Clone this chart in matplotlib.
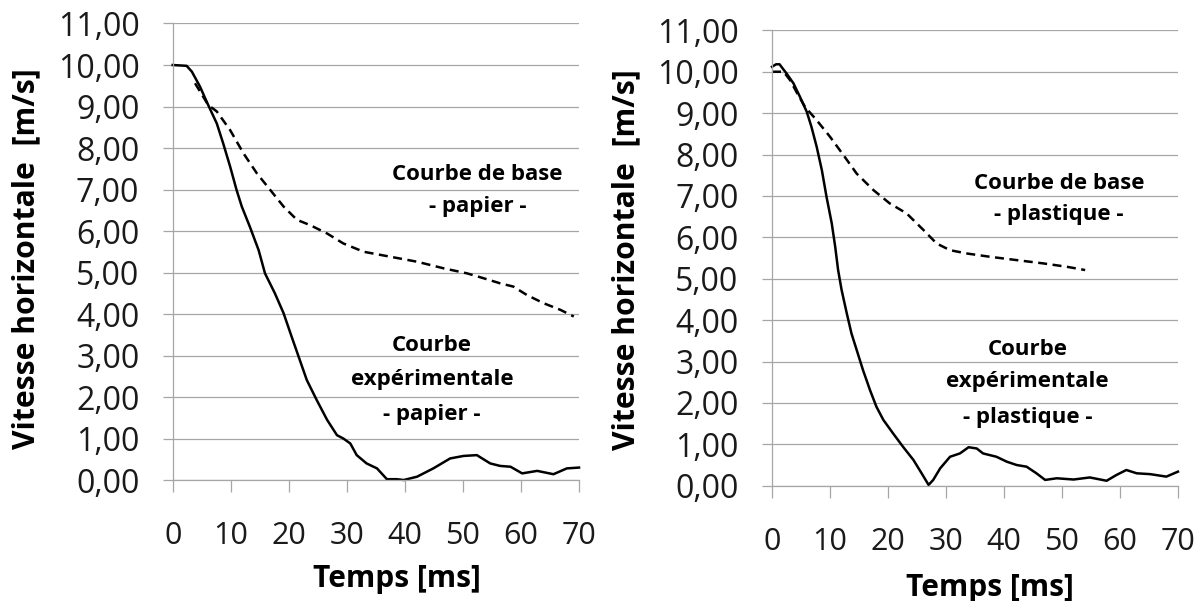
import numpy as np
import matplotlib
matplotlib.use("Agg")
import matplotlib.pyplot as plt
from matplotlib.ticker import FuncFormatter

plt.rcParams["font.family"] = ["Open Sans", "DejaVu Sans"]

# paper (left panel)
t_exp_papier = [0, 2.4, 3.3, 4.7, 6.1, 7.6, 8.7, 9.9, 11.0, 11.9, 13.3, 14.8, 15.9, 17.6,
                19.1, 20.5, 21.9, 23.1, 24.8, 26.6, 28.3, 29.4, 30.6, 31.7, 33.4, 35.2,
                36.9, 38.6, 39.8, 42.1, 44.9, 47.8, 50.1, 52.4, 54.7, 56.4, 58.2, 60.2,
                62.8, 65.6, 67.9, 70.0]
v_exp_papier = [10.0, 9.98, 9.84, 9.48, 9.04, 8.59, 8.11, 7.55, 6.99, 6.59, 6.10, 5.54,
                4.98, 4.50, 4.02, 3.45, 2.89, 2.41, 1.93, 1.45, 1.08, 1.00, 0.88, 0.60,
                0.40, 0.28, 0.02, 0.02, 0.0, 0.08, 0.28, 0.52, 0.58, 0.60, 0.40, 0.34,
                0.32, 0.16, 0.22, 0.14, 0.28, 0.30]
t_base_papier = [3.85, 6.1, 7.6, 9.9, 12.2, 14.5, 16.8, 19.1, 21.4, 23.7, 26.6, 29.4,
                 32.9, 37.5, 42.1, 46.7, 50.7, 53.6, 56.4, 58.7, 61.0, 63.9, 66.8, 69.1]
v_base_papier = [9.56, 9.04, 8.88, 8.43, 7.87, 7.39, 6.99, 6.59, 6.27, 6.14, 5.94, 5.70,
                 5.50, 5.38, 5.26, 5.10, 4.98, 4.86, 4.74, 4.66, 4.46, 4.26, 4.10, 3.94]

# plastic (right panel)
t_exp_plast = [0, 0.7, 1.3, 2.0, 2.5, 3.7, 4.8, 6.0, 6.8, 7.7, 8.6, 9.4, 10.3, 10.9, 11.4,
               12.0, 12.9, 13.7, 14.6, 15.7, 16.9, 18.0, 19.2, 20.9, 22.6, 24.4, 25.8,
               27.0, 27.8, 29.0, 30.7, 32.4, 33.9, 35.3, 36.4, 38.7, 40.5, 42.2, 43.9,
               45.6, 47.1, 49.1, 52.0, 54.8, 57.7, 59.4, 61.1, 62.9, 65.2, 68.0, 70.0]
v_exp_plast = [10.12, 10.18, 10.18, 10.05, 9.96, 9.72, 9.40, 9.03, 8.67, 8.19, 7.62, 6.98,
               6.34, 5.77, 5.21, 4.73, 4.16, 3.68, 3.28, 2.79, 2.31, 1.91, 1.59, 1.26,
               0.94, 0.62, 0.30, 0.02, 0.14, 0.42, 0.70, 0.78, 0.93, 0.90, 0.78, 0.70,
               0.58, 0.50, 0.46, 0.30, 0.14, 0.18, 0.15, 0.20, 0.12, 0.26, 0.38, 0.30,
               0.28, 0.22, 0.34]
t_base_plast = [0, 2.0, 3.1, 4.5, 5.7, 7.7, 10.0, 12.3, 14.6, 17.5, 20.3, 23.2, 26.1, 28.4,
                30.7, 33.6, 37.6, 42.2, 46.8, 50.8, 54.0]
v_base_plast = [10.0, 10.0, 9.80, 9.44, 9.15, 8.83, 8.43, 7.99, 7.54, 7.14, 6.82, 6.58,
                6.18, 5.85, 5.69, 5.61, 5.53, 5.45, 5.37, 5.29, 5.21]

x_ticks = [0, 10, 20, 30, 40, 50, 60, 70]
y_ticks = list(range(0, 12))

GRID = "#a6a6a6"
NOTE = 16


def style_axis(ax, xlab_pos, ylab_pos):
    ax.set_xlim(0, 70)
    ax.set_ylim(0, 11)
    ax.set_xticks(x_ticks)
    ax.set_yticks(y_ticks)
    ax.yaxis.set_major_formatter(FuncFormatter(lambda v, p: f"{v:.2f}".replace(".", ",")))
    ax.grid(True, axis="y", color=GRID, lw=0.9)
    ax.set_axisbelow(True)
    for s in ("top", "right"):
        ax.spines[s].set_visible(False)
    for s in ("left", "bottom"):
        ax.spines[s].set_color(GRID)
        ax.spines[s].set_linewidth(0.9)
    ax.tick_params(axis="x", direction="out", length=8.6, width=0.9, color=GRID,
                   pad=21, labelsize=22, labelcolor="#1a1a1a")
    ax.tick_params(axis="y", direction="out", length=7, width=0.9, color=GRID,
                   pad=17, labelsize=23, labelcolor="#1a1a1a")
    ax.set_xlabel("Temps [ms]", fontsize=21.5, fontweight="bold", va="center")
    ax.xaxis.set_label_coords(*xlab_pos)
    ax.set_ylabel("Vitesse horizontale  [m/s]", fontsize=21.7, fontweight="bold", va="center")
    ax.yaxis.set_label_coords(*ylab_pos)


fig = plt.figure(figsize=(12.01, 6.01), dpi=100)
ax1 = fig.add_axes([0.1438, 0.2013, 0.3383, 0.7596])
ax2 = fig.add_axes([0.6428, 0.1918, 0.3380, 0.7577])

ax1.plot(t_exp_papier, v_exp_papier, color="black", lw=1.8, clip_on=False)
ax1.plot(t_base_papier, v_base_papier, color="black", lw=1.8, ls=(0, (3.6, 2.2)), clip_on=False)
style_axis(ax1, (0.552, -0.217), (-0.359, 0.486))
ax1.text(52.5, 7.37, "Courbe de base", ha="center", va="center", fontsize=NOTE, fontweight="bold")
ax1.text(52.5, 6.58, "- papier -", ha="center", va="center", fontsize=NOTE, fontweight="bold")
ax1.text(44.7, 3.23, "Courbe", ha="center", va="center", fontsize=NOTE, fontweight="bold")
ax1.text(44.7, 2.41, "expérimentale", ha="center", va="center", fontsize=NOTE, fontweight="bold")
ax1.text(44.7, 1.59, "- papier -", ha="center", va="center", fontsize=NOTE, fontweight="bold")

ax2.plot(t_exp_plast, v_exp_plast, color="black", lw=1.8, clip_on=False)
ax2.plot(t_base_plast, v_base_plast, color="black", lw=1.8, ls=(0, (3.6, 2.2)), clip_on=False)
style_axis(ax2, (0.537, -0.225), (-0.36, 0.496))
ax2.text(49.5, 7.31, "Courbe de base", ha="center", va="center", fontsize=NOTE, fontweight="bold")
ax2.text(49.5, 6.54, "- plastique -", ha="center", va="center", fontsize=NOTE, fontweight="bold")
ax2.text(44.1, 3.28, "Courbe", ha="center", va="center", fontsize=NOTE, fontweight="bold")
ax2.text(44.1, 2.51, "expérimentale", ha="center", va="center", fontsize=NOTE, fontweight="bold")
ax2.text(44.1, 1.65, "- plastique -", ha="center", va="center", fontsize=NOTE, fontweight="bold")

fig.savefig("out.png", dpi=100)
